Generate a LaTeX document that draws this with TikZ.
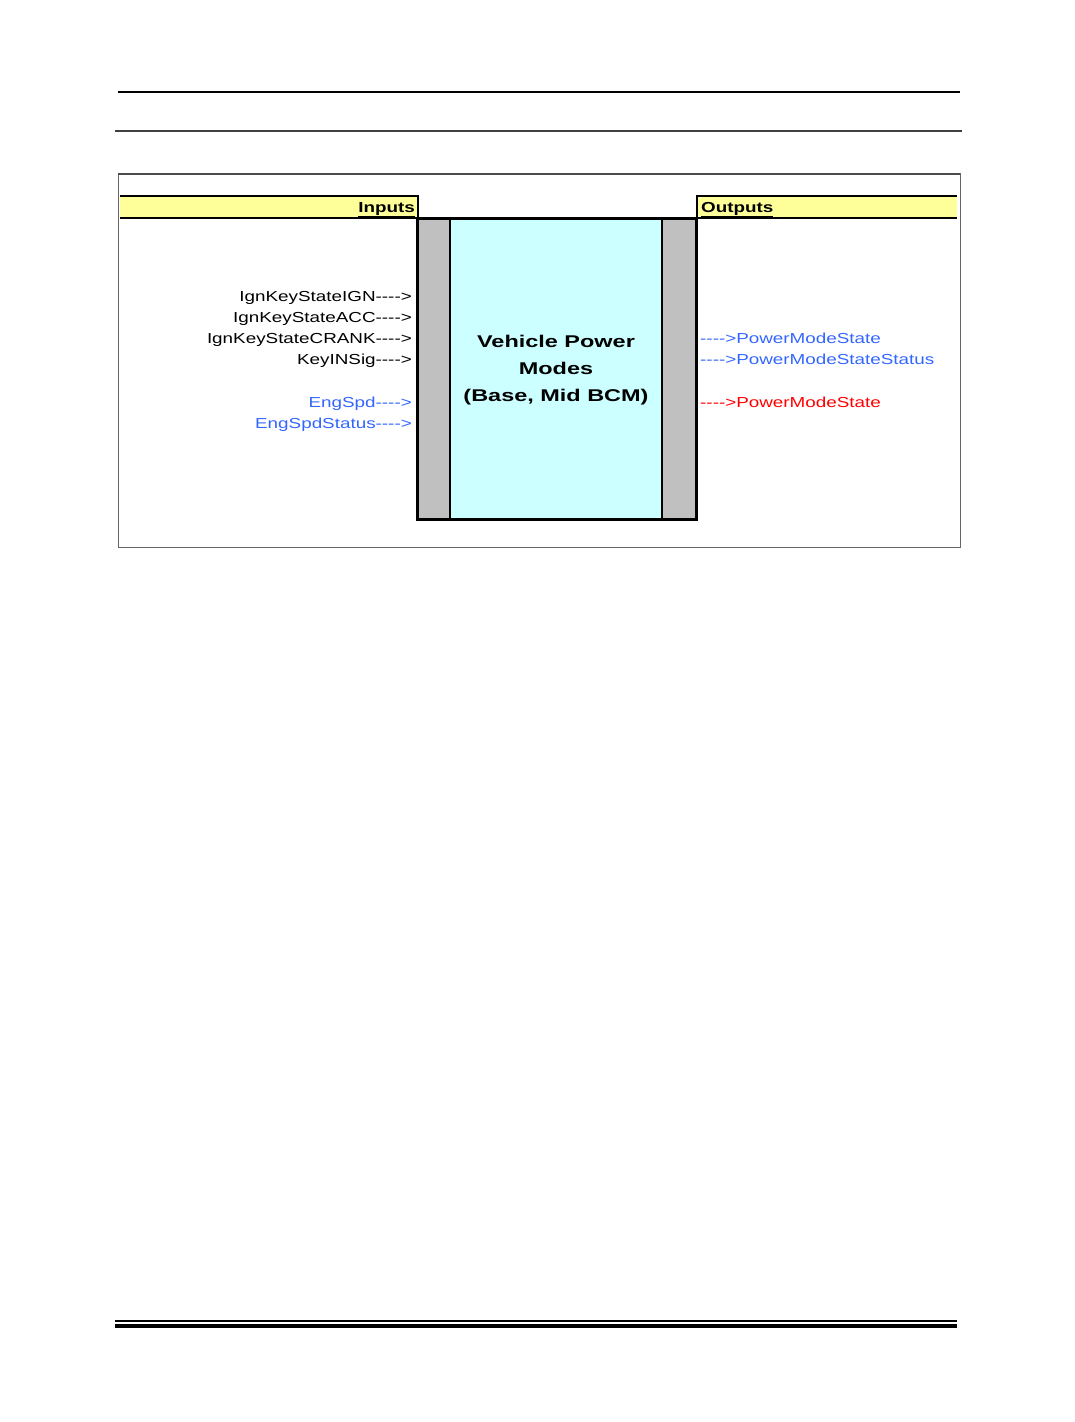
\documentclass[tikz,border=0pt]{standalone}
\usepackage{fontspec}
\setmainfont{Liberation Sans}
\newfontfamily\sigfont{Liberation Sans}[FakeStretch=1.3]
\newfontfamily\hdrfont{Liberation Sans}[FakeStretch=1.3]
\newfontfamily\blockfont{Liberation Sans}[FakeStretch=1.38]
\newcommand\sigarr{\mbox{-}\mbox{-}\mbox{-}\mbox{-}>}
\definecolor{hdryellow}{RGB}{255,255,153}
\definecolor{blockcyan}{RGB}{204,255,255}
\definecolor{stripgray}{RGB}{192,192,192}
\definecolor{sigblue}{RGB}{51,102,255}
\definecolor{sigred}{RGB}{255,0,0}
\tikzset{
  sig/.style={inner sep=0pt, font=\sigfont\fontsize{14.5}{17}\selectfont},
  insig/.style={sig, anchor=base east},
  outsig/.style={sig, anchor=base west},
  hdr/.style={inner sep=0pt, font=\hdrfont\fontsize{14.5}{17}\selectfont\bfseries}
}
\begin{document}
\begin{tikzpicture}[x=1pt, y=-1pt]
        \useasboundingbox (0,0) rectangle (1075,1422);

        % Header rules
        \draw[line width=1.2pt] (118,92) -- (960,92);
        \draw[line width=2pt, black!75] (115,131) -- (962,131);

        % Outer frame
        \draw[black!60, line width=1pt] (118,173) rectangle (960,547);
        \draw[black!70, line width=2pt] (118,174) -- (960,174);

        % Inputs / Outputs bars
        \fill[hdryellow] (120,196) rectangle (418,218);
        \fill[hdryellow] (697,196) rectangle (957,218);
        \draw[line width=2pt] (120,196) -- (418,196) -- (418,218);
        \draw[line width=2pt] (697,218) -- (697,196) -- (957,196);
        \draw[line width=1.5pt] (120,218) -- (418,218);
        \draw[line width=1.5pt] (697,218) -- (957,218);
        \node[hdr, anchor=base east] (inhdr) at (415,212) {\underline{Inputs}};
        \node[hdr, anchor=base west] (outhdr) at (701,212) {\underline{Outputs}};

        % Block
        \fill[stripgray] (417,218) rectangle (450,519);
        \fill[stripgray] (662,218) rectangle (696,519);
        \fill[blockcyan] (450,218) rectangle (662,519);
        \draw[line width=2pt] (450,218) -- (450,519);
        \draw[line width=2pt] (662,218) -- (662,519);
        \draw[line width=3pt] (417,218) rectangle (696,519);
        \node[align=center, inner sep=0pt, anchor=base,
              font=\blockfont\fontsize{17}{27}\selectfont\bfseries] (block) at (556,401)
          {Vehicle Power\\Modes\\(Base, Mid BCM)};

        % Inputs
        \node[insig] (ign) at (412,301) {IgnKeyStateIGN\sigarr};
        \node[insig] (acc) at (412,322) {IgnKeyStateACC\sigarr};
        \node[insig] (crank) at (412,343) {IgnKeyStateCRANK\sigarr};
        \node[insig] (keyin) at (412,364) {KeyINSig\sigarr};
        \node[insig, text=sigblue] (engspd) at (412,407) {EngSpd\sigarr};
        \node[insig, text=sigblue] (engstat) at (412,428) {EngSpdStatus\sigarr};

        % Outputs
        \node[outsig, text=sigblue] (pms) at (700,343) {\sigarr PowerModeState};
        \node[outsig, text=sigblue] (pmsstat) at (700,364) {\sigarr PowerModeStateStatus};
        \node[outsig, text=sigred] (pmsred) at (700,407) {\sigarr PowerModeState};

        % Footer rules
        \draw[line width=1.5pt] (115,1321) -- (957,1321);
        \draw[line width=4.5pt] (115,1326) -- (957,1326);

      \end{tikzpicture}
\end{document}
